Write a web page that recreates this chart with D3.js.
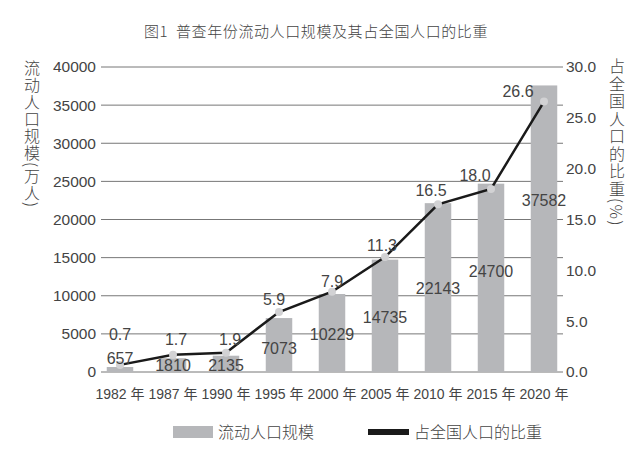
<!DOCTYPE html>
<html>
<head>
<meta charset="utf-8">
<script src="https://cdn.jsdelivr.net/npm/d3@7"></script>
<style>
  body { margin: 0; background: #fff; }
  text { font-family: "Liberation Sans", Arial, "Noto Sans CJK SC", sans-serif; fill: #444; }
  .cjk { font-family: "Noto Sans CJK SC", sans-serif; font-weight: 300; }
</style>
</head>
<body>
<svg id="chart" width="640" height="460"></svg>
<script>
// data
const years = ["1982", "1987", "1990", "1995", "2000", "2005", "2010", "2015", "2020"];
const floating = [657, 1810, 2135, 7073, 10229, 14735, 22143, 24700, 37582];
const share = [0.7, 1.7, 1.9, 5.9, 7.9, 11.3, 16.5, 18.0, 26.6];
const leftTicks = [0, 5000, 10000, 15000, 20000, 25000, 30000, 35000, 40000];
const rightTicks = [0, 5, 10, 15, 20, 25, 30];

// label nudges (px) so the numbers sit where the print has them
const countDy = [-14, -7, -7, -24, -38, -55, -84, -101, -172];
const shareDx = [0, 3, 4, -5, 0, -3, -7, -16, -26];
const shareDy = [-30, -15, -13, -13, -10, -12, -14, -14, -10];

const svg = d3.select("#chart");
const L = 101, R = 563, T = 67, B = 372;

const x = d3.scaleBand().domain(years).range([93.5, 570.5]).paddingInner(0.5).paddingOuter(0.25);
const yL = d3.scaleLinear().domain([0, 40000]).range([B, T]);
const yR = d3.scaleLinear().domain([0, 30]).range([B, T]);
const cx = d => x(d) + x.bandwidth() / 2;

// title
svg.append("text")
  .attr("class", "cjk")
  .attr("x", 316).attr("y", 37)
  .attr("text-anchor", "middle")
  .style("font-size", "15px")
  .style("letter-spacing", "0.6px")
  .text("图1\u00a0\u00a0普查年份流动人口规模及其占全国人口的比重");

// gridlines
svg.append("g").selectAll("line")
  .data(leftTicks)
  .join("line")
  .attr("x1", L).attr("x2", R)
  .attr("y1", d => yL(d)).attr("y2", d => yL(d))
  .attr("stroke", "#777").attr("stroke-width", 1);

// left axis labels
svg.append("g").selectAll("text")
  .data(leftTicks)
  .join("text")
  .attr("x", 96).attr("y", d => yL(d))
  .attr("dy", "0.35em")
  .attr("text-anchor", "end")
  .style("font-size", "15.5px")
  .text(d => d);

// right axis labels
svg.append("g").selectAll("text")
  .data(rightTicks)
  .join("text")
  .attr("x", 566).attr("y", d => yR(d))
  .attr("dy", "0.35em")
  .style("font-size", "15.5px")
  .text(d => d3.format(".1f")(d));

// axis titles (vertical)
svg.append("text")
  .attr("class", "cjk")
  .attr("x", 32).attr("y", 60)
  .style("writing-mode", "vertical-rl")
  .style("font-size", "16px")
  .style("letter-spacing", "1px")
  .text("流动人口规模(万人)");

svg.append("text")
  .attr("class", "cjk")
  .attr("x", 617).attr("y", 58)
  .style("writing-mode", "vertical-rl")
  .style("font-size", "16px")
  .style("letter-spacing", "1.5px")
  .text("占全国人口的比重(%)");

// bars
svg.append("g").selectAll("rect")
  .data(floating)
  .join("rect")
  .attr("x", (d, i) => x(years[i]))
  .attr("width", x.bandwidth())
  .attr("y", d => yL(d))
  .attr("height", d => B - yL(d))
  .attr("fill", "#b6b7ba");

// x labels
svg.append("g").selectAll("text")
  .data(years)
  .join("text")
  .attr("x", d => cx(d)).attr("y", 399)
  .attr("text-anchor", "middle")
  .style("font-size", "14px")
  .text(d => d + " 年");

// line
const line = d3.line()
  .x((d, i) => cx(years[i]))
  .y(d => yR(d));

svg.append("path")
  .datum(share)
  .attr("d", line)
  .attr("fill", "none")
  .attr("stroke", "#1a1a1a")
  .attr("stroke-width", 2.5);

svg.append("g").selectAll("circle")
  .data(share)
  .join("circle")
  .attr("cx", (d, i) => cx(years[i]))
  .attr("cy", d => yR(d))
  .attr("r", 4)
  .attr("fill", "#d2d2d4");

// value labels
svg.append("g").selectAll("text")
  .data(floating)
  .join("text")
  .attr("x", (d, i) => cx(years[i]))
  .attr("y", (d, i) => B + countDy[i])
  .attr("dy", "0.35em")
  .attr("text-anchor", "middle")
  .style("font-size", "16px")
  .text(d => d);

svg.append("g").selectAll("text")
  .data(share)
  .join("text")
  .attr("x", (d, i) => cx(years[i]) + shareDx[i])
  .attr("y", (d, i) => yR(d) + shareDy[i])
  .attr("dy", "0.35em")
  .attr("text-anchor", "middle")
  .style("font-size", "16px")
  .text(d => d3.format(".1f")(d));

// legend
const lg = svg.append("g");
lg.append("rect").attr("x", 173).attr("y", 426).attr("width", 40).attr("height", 12).attr("fill", "#b6b7ba");
lg.append("text").attr("class", "cjk").attr("x", 218).attr("y", 432).attr("dy", "0.35em")
  .style("font-size", "16px")
  .text("流动人口规模");
lg.append("rect").attr("x", 368).attr("y", 429).attr("width", 41).attr("height", 6).attr("fill", "#1a1a1a");
lg.append("text").attr("class", "cjk").attr("x", 414).attr("y", 432).attr("dy", "0.35em")
  .style("font-size", "16px")
  .text("占全国人口的比重");
</script>
</body>
</html>
